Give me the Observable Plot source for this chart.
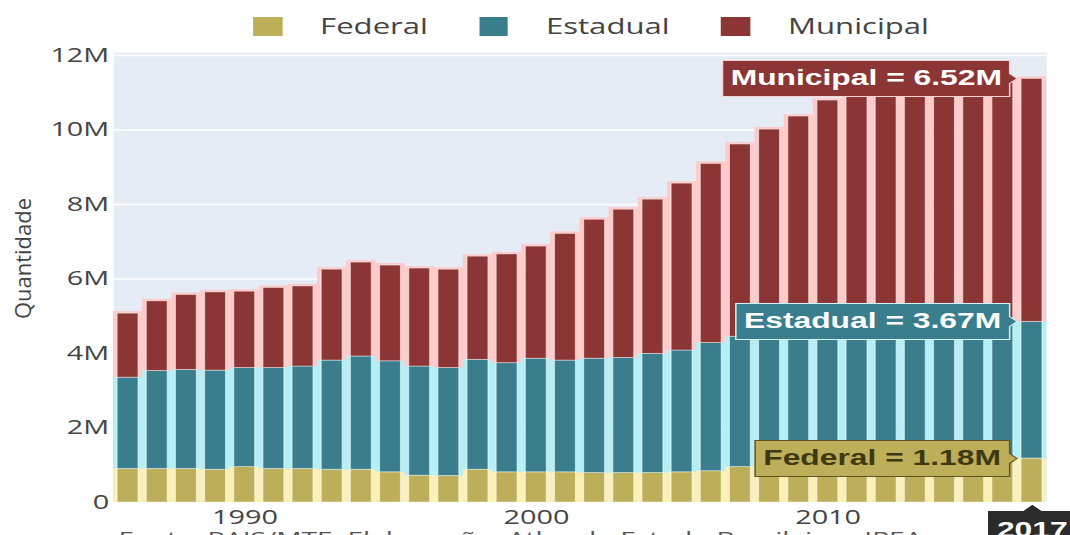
<!DOCTYPE html>
<html>
<head>
<meta charset="utf-8">
<script src="https://cdn.jsdelivr.net/npm/d3@7"></script>
<script src="https://cdn.jsdelivr.net/npm/@observablehq/plot@0.6"></script>
<style>
  html, body { margin: 0; padding: 0; background: #fff; width: 1070px; height: 535px; overflow: hidden; }
  #wrap { position: relative; width: 723px; height: 535px; transform: scaleX(1.48); transform-origin: 0 0; font-family: "Open Sans", sans-serif; color: #444; }
  #legend { position: relative; height: 40px; }
  #legend .sw { position: absolute; top: 17px; width: 19.6px; height: 19px; }
  #legend .lt { position: absolute; top: 12px; font-size: 21px; line-height: 29px; color: #444; white-space: nowrap; }
  #caption { position: absolute; left: 80px; top: 529px; font-size: 19px; line-height: 1; color: #555; white-space: nowrap; }
  #chart svg text[fill="currentColor"] { fill: #ffffff; }
  #chart svg g[aria-label="text"] + g[aria-label="tip"] text,
  #chart svg g[aria-label="text"] + g[aria-label="tip"] tspan,
  #chart svg text.dark-tip, #chart svg text.dark-tip tspan { fill: #3e3912 !important; }
</style>
</head>
<body>
<div id="wrap">
  <div id="legend"></div>
  <div id="chart"></div>
  <div id="caption">Fonte: RAIS/MTE. Elaboração: Atlas do Estado Brasileiro - IPEA</div>
</div>
<script>
// ---- data (millions) ----
const years = [1986,1987,1988,1989,1990,1991,1992,1993,1994,1995,1996,1997,1998,1999,2000,2001,2002,2003,2004,2005,2006,2007,2008,2009,2010,2011,2012,2013,2014,2015,2016,2017];
const federal = [0.90,0.90,0.90,0.88,0.95,0.90,0.90,0.88,0.88,0.81,0.72,0.71,0.88,0.81,0.81,0.81,0.79,0.79,0.79,0.81,0.84,0.95,0.99,1.03,1.07,1.10,1.12,1.14,1.16,1.17,1.18,1.18];
const estadual = [2.45,2.63,2.66,2.66,2.66,2.71,2.75,2.93,3.04,2.98,2.93,2.90,2.95,2.93,3.05,3.00,3.07,3.09,3.20,3.27,3.44,3.50,3.56,3.59,3.61,3.62,3.63,3.64,3.64,3.65,3.66,3.67];
const municipal = [1.72,1.87,2.01,2.10,2.05,2.15,2.15,2.44,2.52,2.57,2.63,2.64,2.77,2.92,3.01,3.40,3.73,3.98,4.14,4.48,4.81,5.16,5.46,5.74,6.11,6.23,6.35,6.47,6.55,6.48,6.46,6.52];
const tipos = ["Federal", "Estadual", "Municipal"];
const yTicks = [0, 2, 4, 6, 8, 10, 12];
const xTicks = [1990, 2000, 2010];

// ---- styles ----
const colors = {Federal: "#bdae5a", Estadual: "#3a7d8c", Municipal: "#8c3535"};
const tints = {Federal: "#fbf0b8", Estadual: "#b4eff6", Municipal: "#ffcaca"};
const legendLeft = {Federal: 171, Estadual: 323.6, Municipal: 487.2};
const series = {Federal: federal, Estadual: estadual, Municipal: municipal};

const data = [];
years.forEach((yr, i) => tipos.forEach(t => data.push({year: yr, tipo: t, value: series[t][i]})));

// legend
const lg = document.getElementById("legend");
tipos.forEach(t => {
  const sw = document.createElement("span");
  sw.className = "sw";
  sw.style.left = legendLeft[t] + "px";
  sw.style.background = colors[t];
  const tx = document.createElement("span");
  tx.className = "lt";
  tx.style.left = (legendLeft[t] + 45.3) + "px";
  tx.textContent = t;
  lg.appendChild(sw);
  lg.appendChild(tx);
});

// hover-style labels for the last year
const li = years.length - 1;
const tops = {
  Federal: federal[li],
  Estadual: federal[li] + estadual[li],
  Municipal: federal[li] + estadual[li] + municipal[li]
};
const tipStyle = {
  Municipal: {fill: "#8c3535", stroke: "#f6d2d2"},
  Estadual: {fill: "#3a7d8c", stroke: "#d2f4f8"},
  Federal: {fill: "#bdae5a", stroke: "#5e5522"}
};
const tipLabel = t => `${t} = ${series[t][li].toFixed(2)}M`;
const tipMarks = tipos.map(t => Plot.tip(
  [{year: years[li], top: tops[t], label: tipLabel(t)}],
  {x: "year", y: "top", title: "label", anchor: "right", dx: -10.4,
   fill: tipStyle[t].fill, stroke: tipStyle[t].stroke, strokeWidth: 1,
   fontSize: 21.5, fontWeight: "bold", fontFamily: "Liberation Sans, Arial, sans-serif",
   textPadding: 5.5, pointerSize: 10, pathFilter: "none"}
));
const yearTip = Plot.tip([{year: years[li], label: String(years[li])}],
  {x: "year", frameAnchor: "bottom", title: "label", anchor: "top", dy: 3,
   fill: "#2b2b2b", stroke: "#2b2b2b", fontSize: 21.5, fontWeight: "bold",
   fontFamily: "Liberation Sans, Arial, sans-serif", textPadding: 5.5, pointerSize: 12,
   pathFilter: "none"});

const chart = Plot.plot({
  width: 723,
  height: 495,
  marginLeft: 76.35,
  marginRight: 16.2,
  marginTop: 12,
  marginBottom: 33,
  style: {fontFamily: "Open Sans, sans-serif", fontSize: "19.5px", color: "#444", background: "transparent"},
  x: {type: "band", domain: years, paddingInner: 0.28, paddingOuter: 0.14, round: false, label: null},
  y: {domain: [0, 12.08], label: null},
  color: {domain: tipos, range: tipos.map(t => colors[t])},
  marks: [
    Plot.frame({fill: "#e5ecf6", stroke: null}),
    Plot.gridY(yTicks, {stroke: "#ffffff", strokeOpacity: 1, strokeWidth: 1.3}),
    Plot.barY(data, {x: "year", y: "value", fill: {value: d => tints[d.tipo], scale: null},
      insetLeft: -2.8, insetRight: -2.8, insetTop: -2}),
    Plot.barY(data, {x: "year", y: "value", fill: "tipo", stroke: "#ffffff", strokeOpacity: 0.55, strokeWidth: 0.8}),
    Plot.axisY({ticks: yTicks, tickSize: 0, tickPadding: 3, label: null,
      tickFormat: d => d === 0 ? "0" : d + "M"}),
    Plot.axisX({ticks: xTicks, tickSize: 0, tickPadding: 8, label: null, tickFormat: d => String(d)}),
    Plot.text(["Quantidade"], {frameAnchor: "left", text: d => d, rotate: -90, dx: -60.85, dy: -19,
      fontSize: 22, textAnchor: "middle", lineAnchor: "middle", fill: "#444"}),
    ...tipMarks,
    yearTip
  ]
});
document.getElementById("chart").appendChild(chart);

// dark text on the light Federal label, and un-stretched axis title
function restyle() {
  try {
    const fedLabel = tipLabel("Federal");
    chart.querySelectorAll("text").forEach(el => {
      const s = (el.textContent || "").trim();
      if (s === fedLabel) el.classList.add("dark-tip");
      if (s === "Quantidade" && el.getAttribute("data-fixed") !== "1") {
        el.setAttribute("data-fixed", "1");
        const tr = el.getAttribute("transform") || "";
        el.setAttribute("transform", tr + " scale(1," + (1 / 1.48) + ")");
      }
    });
  } catch (e) { console.error(e); }
}
restyle();
requestAnimationFrame(restyle);
setTimeout(restyle, 30);
window.addEventListener("load", restyle);
</script>
</body>
</html>
